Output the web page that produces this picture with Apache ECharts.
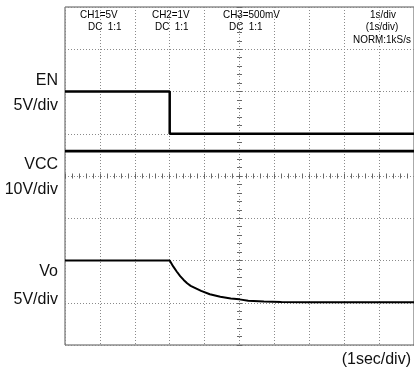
<!DOCTYPE html>
<html>
<head>
<meta charset="utf-8">
<script src="https://cdn.jsdelivr.net/npm/echarts@6/dist/echarts.min.js"></script>
<style>
  html, body { margin: 0; padding: 0; background: #ffffff; }
  #scope { width: 414px; height: 379px; }
</style>
</head>
<body>
<div id="scope"></div>
<script>
// Acquisition: 1 s/div, 10 horizontal divisions, 8 vertical divisions
const timeEN  = [0, 3.0, 3.0, 10];
const voltEN  = [5, 5, 0, 0];

const timeVCC = [0, 10];
const voltVCC = [5.9, 5.9];

const timeVo  = [0, 3.0, 3.1, 3.2, 3.3, 3.4, 3.5, 3.6, 3.75, 3.9, 4.15, 4.45, 4.75, 5.0, 5.25, 5.7, 6.2, 7.0, 10];
const voltVo  = [5.0, 5.0, 4.3, 3.7, 3.15, 2.7, 2.3, 2.0, 1.7, 1.4, 1.0, 0.7, 0.5, 0.4, 0.25, 0.15, 0.1, 0.05, 0.05];

// Channel names and vertical sensitivities shown at the left
const channelNames = ['EN', 'VCC', 'Vo'];
const channelScales = ['5V/div', '10V/div', '5V/div'];

// Scope status readout
const headerTexts = ['CH1=5V', 'DC  1:1', 'CH2=1V', 'DC  1:1', 'CH3=500mV', 'DC  1:1', '1s/div', '(1s/div)', 'NORM:1kS/s'];
const timebaseText = '(1sec/div)';

// Volts per division and ground position (in divisions from bottom) per channel
const chEN  = { vdiv: 5,  gnd: 5 };
const chVCC = { vdiv: 10, gnd: 4 };
const chVo  = { vdiv: 5,  gnd: 1 };

function toDiv(times, volts, ch) {
  return times.map((t, i) => [t, ch.gnd + volts[i] / ch.vdiv]);
}

const GRID = { left: 65, top: 7, width: 349, height: 338 };
const dotStyle = { color: '#8a8a8a', width: 1, type: [1, 2] };
const tickStyle = { color: '#666', width: 1 };

// Axes for the centre graticule lines carrying 1/5-division ticks
function centreAxis(pos, range) {
  return {
    type: 'value',
    position: pos,
    min: -range, max: range, interval: 0.2,
    axisLine: { show: false, onZero: true, onZeroAxisIndex: 1 },
    axisTick: { show: true, inside: true, length: 2.5, lineStyle: tickStyle },
    axisLabel: { show: false },
    splitLine: { show: false }
  };
}

const chart = echarts.init(document.getElementById('scope'), null, { renderer: 'canvas' });

const leftX = 58;
const labelFont = '16px "Liberation Sans", Arial, sans-serif';
const hdrFont = '11px "Liberation Sans", Arial, sans-serif';

function leftLabel(text, y) {
  return { type: 'text', x: leftX, y: y, silent: true,
    style: { text: text, font: labelFont, fill: '#111', align: 'right', verticalAlign: 'middle' } };
}
function hdr(text, x, y, align) {
  return { type: 'text', x: x, y: y, scaleX: 0.9, silent: true,
    style: { text: text, font: hdrFont, fill: '#000', align: align || 'left', verticalAlign: 'middle' } };
}

chart.setOption({
  animation: false,
  backgroundColor: '#ffffff',
  grid: Object.assign({ show: true, borderColor: '#555', borderWidth: 1, backgroundColor: 'transparent' }, GRID),
  xAxis: [
    { type: 'value', min: 0, max: 10, interval: 1,
      axisLine: { show: false }, axisTick: { show: false }, axisLabel: { show: false },
      splitLine: { show: true, lineStyle: dotStyle } },
    centreAxis('bottom', 5),
    centreAxis('top', 5)
  ],
  yAxis: [
    { type: 'value', min: 0, max: 8, interval: 1,
      axisLine: { show: false }, axisTick: { show: false }, axisLabel: { show: false },
      splitLine: { show: true, lineStyle: dotStyle } },
    centreAxis('left', 4),
    centreAxis('right', 4)
  ],
  series: [
    { name: channelNames[0], type: 'line', data: toDiv(timeEN, voltEN, chEN),
      showSymbol: false, lineStyle: { color: '#000', width: 2.5 }, z: 5 },
    { name: channelNames[1], type: 'line', data: toDiv(timeVCC, voltVCC, chVCC),
      showSymbol: false, lineStyle: { color: '#000', width: 2.8 }, z: 5 },
    { name: channelNames[2], type: 'line', data: toDiv(timeVo, voltVo, chVo),
      showSymbol: false, lineStyle: { color: '#000', width: 2 }, z: 5 }
  ],
  graphic: [
    leftLabel(channelNames[0], 81),
    leftLabel(channelScales[0], 106),
    leftLabel(channelNames[1], 165),
    leftLabel(channelScales[1], 190),
    leftLabel(channelNames[2], 272),
    leftLabel(channelScales[2], 300),
    hdr(headerTexts[0], 80, 15),
    hdr(headerTexts[1], 88, 27),
    hdr(headerTexts[2], 152, 15),
    hdr(headerTexts[3], 155, 27),
    hdr(headerTexts[4], 223, 15),
    hdr(headerTexts[5], 229, 27),
    hdr(headerTexts[6], 383, 15, 'center'),
    hdr(headerTexts[7], 382, 27, 'center'),
    hdr(headerTexts[8], 382, 40, 'center'),
    { type: 'text', x: 411, y: 360, silent: true,
      style: { text: timebaseText, font: labelFont, fill: '#111', align: 'right', verticalAlign: 'middle' } }
  ]
});
</script>
</body>
</html>
